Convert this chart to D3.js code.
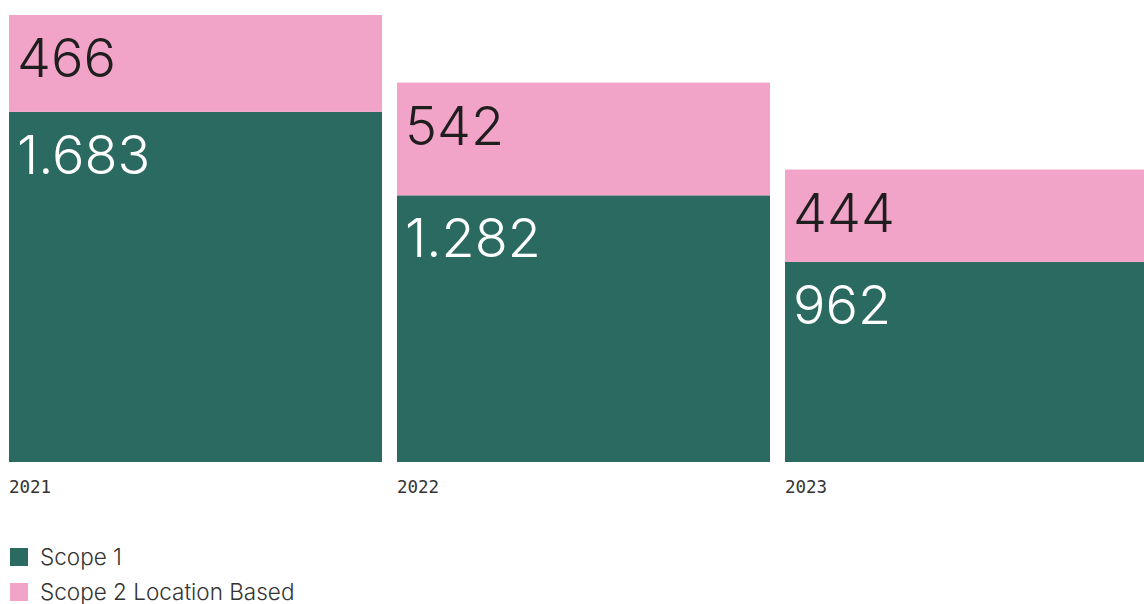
<!DOCTYPE html>
<html>
<head>
<meta charset="utf-8">
<script src="https://cdn.jsdelivr.net/npm/d3@7"></script>
<style>
  html, body { margin: 0; padding: 0; background: #fff; }
  svg { display: block; }
</style>
</head>
<body>
<svg id="chart" width="1144" height="604"></svg>
<script>
// Emissions by year (stacked: Scope 1 + Scope 2 Location Based)
const years = ["2021", "2022", "2023"];
const scope1 = [1683, 1282, 962];
const scope2 = [466, 542, 444];
const seriesNames = ["Scope 1", "Scope 2 Location Based"];
const seriesColors = ["#2b6a61", "#f2a3c8"];

const fmt = v => d3.format(",")(v).replace(/,/g, ".");

const svg = d3.select("#chart");
const W = 1144;
const baseline = 462;
const plotTop = 15;
const step = 388, gap = 15;

// Last band runs past the right edge and is clipped there
const x = d3.scaleBand()
  .domain(years)
  .range([9, 9 + step * years.length - gap])
  .paddingInner(gap / step)
  .paddingOuter(0);

const rows = years.map((y, i) => ({ year: y, s1: scope1[i], s2: scope2[i] }));
const maxTotal = d3.max(rows, d => d.s1 + d.s2);

const yScale = d3.scaleLinear()
  .domain([0, maxTotal])
  .range([baseline, plotTop]);

const stack = d3.stack().keys(["s1", "s2"]);
const layers = stack(rows);

const clip = svg.append("defs").append("clipPath").attr("id", "plotClip");
clip.append("rect").attr("x", 0).attr("y", 0).attr("width", W).attr("height", 604);

const plot = svg.append("g").attr("clip-path", "url(#plotClip)");

layers.forEach((layer, li) => {
  const g = plot.append("g");
  g.selectAll("rect")
    .data(layer)
    .join("rect")
    .attr("x", d => x(d.data.year))
    .attr("width", x.bandwidth())
    .attr("y", d => yScale(d[1]))
    .attr("height", d => yScale(d[0]) - yScale(d[1]))
    .attr("fill", seriesColors[li]);

  g.selectAll("text")
    .data(layer)
    .join("text")
    .attr("x", d => x(d.data.year) + 8)
    .attr("y", d => yScale(d[1]) + 62)
    .attr("font-family", "Inter, 'Open Sans', sans-serif")
    .attr("font-weight", 300)
    .attr("font-size", 54)
    .attr("fill", li === 0 ? "#ffffff" : "#1e1e1e")
    .text(d => fmt(d[1] - d[0]));
});

// Category axis labels
const xAxis = d3.axisBottom(x).tickSize(0).tickPadding(0);
const axisG = svg.append("g")
  .attr("transform", `translate(0,${baseline})`)
  .call(xAxis);
axisG.select(".domain").remove();
axisG.selectAll(".tick text")
  .attr("text-anchor", "start")
  .attr("x", -x.bandwidth() / 2)
  .attr("dy", 0)
  .attr("y", 31)
  .attr("font-family", "'DejaVu Sans Mono', 'Liberation Mono', monospace")
  .attr("font-size", 17.5)
  .attr("fill", "#333");

// Legend
const legend = svg.append("g").attr("transform", "translate(10,548)");
seriesNames.forEach((name, i) => {
  const row = legend.append("g").attr("transform", `translate(0,${i * 35})`);
  row.append("rect").attr("width", 18).attr("height", 18).attr("fill", seriesColors[i]);
  row.append("text")
    .attr("x", 30)
    .attr("y", 17)
    .attr("font-family", "Inter, 'Open Sans', sans-serif")
    .attr("font-weight", 300)
    .attr("font-size", 22.5)
    .attr("fill", "#333")
    .text(name);
});
</script>
</body>
</html>
